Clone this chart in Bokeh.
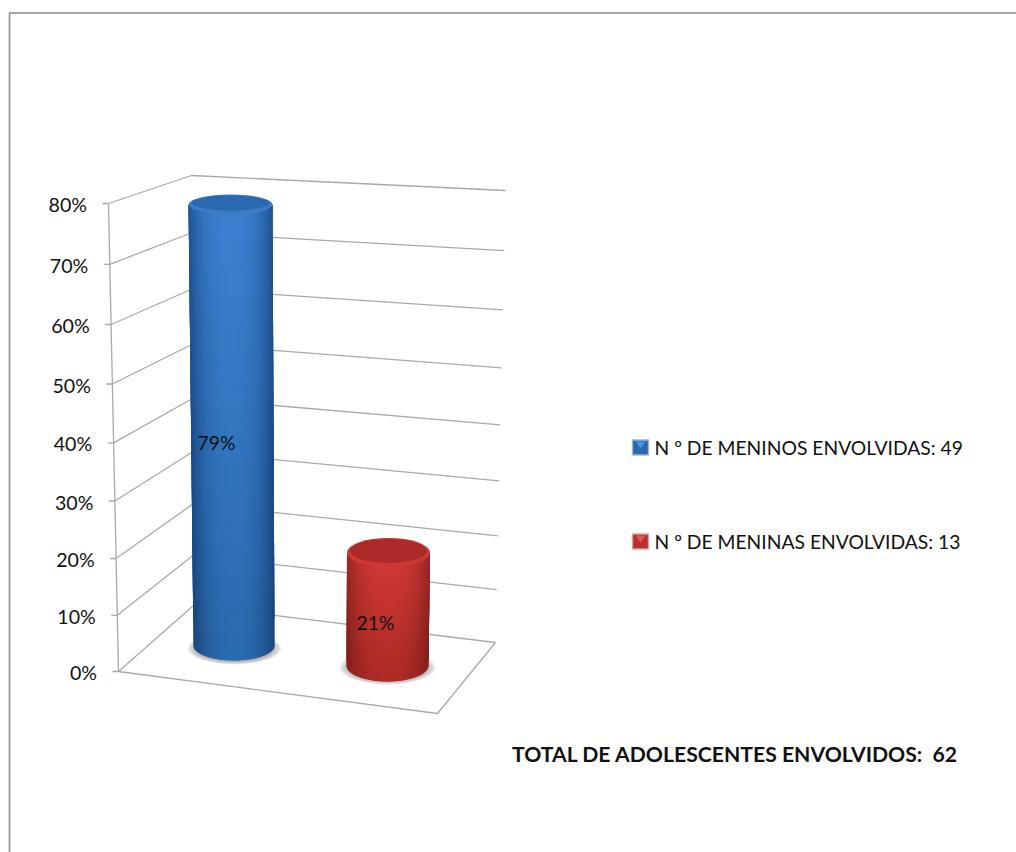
import numpy as np
from bokeh.core.properties import value
from bokeh.embed import file_html
from bokeh.models import ColumnDataSource, Range1d
from bokeh.plotting import figure
from bokeh.resources import INLINE

# ---- data ----
tick_values = [0, 10, 20, 30, 40, 50, 60, 70, 80]
tick_labels = ["0%", "10%", "20%", "30%", "40%", "50%", "60%", "70%", "80%"]
series_names = ["N º DE MENINOS ENVOLVIDAS: 49", "N º DE MENINAS ENVOLVIDAS: 13"]
series_values = [79, 21]
bar_labels = ["79%", "21%"]
total_label = "TOTAL DE ADOLESCENTES ENVOLVIDOS:\u00a0 62"

# ---- layout of the projected 3D box (page pixels) ----
FONT = value("Lato")
GRID = "#a9a9a9"
FL_B, FL_T = (118.0, 671.0), (108.0, 203.0)     # front-left edge
BL_B, BL_T = (193.0, 605.0), (191.0, 175.0)     # back-left edge
BR_B, BR_T = (495.0, 642.0), (505.0, 190.0)     # back-right edge
FR_B = (437.0, 713.0)                           # front-right floor corner


def frac(v, k):
    """Share of a wall's height at value v; k is the perspective stretch of that edge."""
    return v * (1 + k * v) / (80 * (1 + k * 80))


def lerp(a, b, t):
    return (a[0] + (b[0] - a[0]) * t, a[1] + (b[1] - a[1]) * t)


p = figure(width=1016, height=852, output_backend="svg", toolbar_location=None,
           x_range=Range1d(0, 1016), y_range=Range1d(852, 0),
           min_border=0, outline_line_color=None)
p.axis.visible = False
p.grid.visible = False
p.background_fill_color = "white"

# outer chart border
p.line([9, 9, 1016], [852, 12.5, 12.5], line_color="#8c8c8c", line_width=1.6)

# walls: grid lines
gx, gy = [], []
for v in tick_values:
    a = lerp(FL_B, FL_T, frac(v, 0.0006))
    b = lerp(BL_B, BL_T, frac(v, 0.001))
    c = lerp(BR_B, BR_T, frac(v, 0.001))
    gx.append([a[0], b[0], c[0]])
    gy.append([a[1], b[1], c[1]])
p.multi_line(gx, gy, line_color=GRID, line_width=1.3)

# floor and value axis
p.line([FL_B[0], FR_B[0], BR_B[0]], [FL_B[1], FR_B[1], BR_B[1]], line_color=GRID, line_width=1.3)
p.line([FL_B[0], FL_T[0]], [FL_B[1], FL_T[1]], line_color=GRID, line_width=1.3)

# ticks and tick labels
tp = [lerp(FL_B, FL_T, frac(v, 0.0006)) for v in tick_values]
p.segment([q[0] - 6 for q in tp], [q[1] for q in tp], [q[0] for q in tp], [q[1] for q in tp],
          line_color=GRID, line_width=1.3)
p.text([q[0] - 21.5 for q in tp], [q[1] + 1 for q in tp], text=tick_labels, text_font=FONT,
       text_font_size="19.6px", text_color="#111111", text_align="right", text_baseline="middle")

# cylinders
bars = [
    dict(xb=233.5, xt=230.0, rb=40.5, rt=42.0, yb=645.0, ryb=15.0, ryt=8.5, shadow=(234, 648, 47, 16),
         edge_top=(32, 84, 150), mid_top=(60, 128, 208), edge_bot=(24, 68, 122), mid_bot=(42, 106, 174),
         rim=(58, 122, 200), cap=(44, 104, 176), label_x=216, label_y=442),
    dict(xb=387.0, xt=388.0, rb=41.0, rt=41.5, yb=665.0, ryb=16.0, ryt=13.0, shadow=(387, 667, 48, 17),
         edge_top=(150, 40, 38), mid_top=(208, 56, 52), edge_bot=(128, 30, 28), mid_bot=(172, 42, 38),
         rim=(206, 56, 52), cap=(172, 42, 40), label_x=375, label_y=622),
]


def rgb(c):
    return "#%02x%02x%02x" % tuple(int(round(x)) for x in c)


def mix(a, b, t):
    return tuple(a[i] + (b[i] - a[i]) * t for i in range(3))


for b, val in zip(bars, series_values):
    # soft floor shadow
    sx, sy, srx, sry = b["shadow"]
    for k in np.linspace(1.0, 0.8, 7):
        p.ellipse([sx], [sy], width=2 * srx * k, height=2 * sry * k, fill_color="#7d7d7d",
                  fill_alpha=0.12, line_color=None)

    ytop = b["yb"] - float(5.31 * val + 0.00345 * val * val)
    th = np.linspace(-np.pi / 2, np.pi / 2, 49)
    vs = np.linspace(0, 1, 17)
    xs, ys, cols = [], [], []

    def pt(theta, t):
        u = np.sin(theta)
        cx = b["xb"] + (b["xt"] - b["xb"]) * t
        r = b["rb"] + (b["rt"] - b["rb"]) * t
        cy = b["yb"] + (ytop - b["yb"]) * t
        ry = b["ryb"] + (b["ryt"] - b["ryb"]) * t
        return cx + u * r, cy + ry * np.cos(theta)

    # painter's order with overlap so that no seams show between the cells
    for i in range(len(th) - 1):
        tm = (th[i] + th[i + 1]) / 2
        shade = 1 - abs(np.sin(tm)) ** 2.6
        i2 = min(i + 2, len(th) - 1)
        for j in range(len(vs) - 1):
            j2 = min(j + 2, len(vs) - 1)
            corners = [pt(th[i], vs[j]), pt(th[i2], vs[j]), pt(th[i2], vs[j2]), pt(th[i], vs[j2])]
            xs.append([c[0] for c in corners])
            ys.append([c[1] for c in corners])
            vm = (vs[j] + vs[j + 1]) / 2
            cols.append(rgb(mix(mix(b["edge_bot"], b["mid_bot"], shade), mix(b["edge_top"], b["mid_top"], shade), vm)))
    src = ColumnDataSource(dict(xs=xs, ys=ys, c=cols))
    p.patches("xs", "ys", source=src, fill_color="c", line_color=None)

    # cap
    p.ellipse([b["xt"]], [ytop], width=2 * b["rt"], height=2 * b["ryt"] + 3, fill_color=rgb(b["rim"]), line_color=None)
    p.ellipse([b["xt"]], [ytop - 1.5], width=2 * b["rt"] - 6, height=2 * b["ryt"] - 2, fill_color=rgb(b["cap"]), line_color=None)

# bar value labels
p.text([b["label_x"] for b in bars], [b["label_y"] for b in bars], text=bar_labels, text_font=FONT,
       text_font_size="19.3px", text_color="#111111", text_align="center", text_baseline="middle")

# legend
leg_y = [447, 541]
leg_main = ["#2c68ac", "#b8302e"]
leg_light = ["#4d95e2", "#e25452"]
leg_edge = ["#9db6d2", "#d8a4a2"]
for ly, m, l, e in zip(leg_y, leg_main, leg_light, leg_edge):
    p.quad(left=[632], right=[648], top=[ly - 7.5], bottom=[ly + 7.5], fill_color=m, line_color=e, line_width=1.4)
    p.patch([635, 645, 640], [ly - 6, ly - 6, ly + 1], fill_color=l, line_color=None)
p.text([654, 654], leg_y, text=series_names, text_font=FONT, text_font_size="19.3px",
       text_color="#111111", text_align="left", text_baseline="middle")

# total note
p.text([511.5], [753], text=[total_label], text_font=FONT, text_font_size="21.2px", text_font_style="bold",
       text_color="#111111", text_align="left", text_baseline="middle")

open("out.html", "w").write(file_html(p, INLINE))
